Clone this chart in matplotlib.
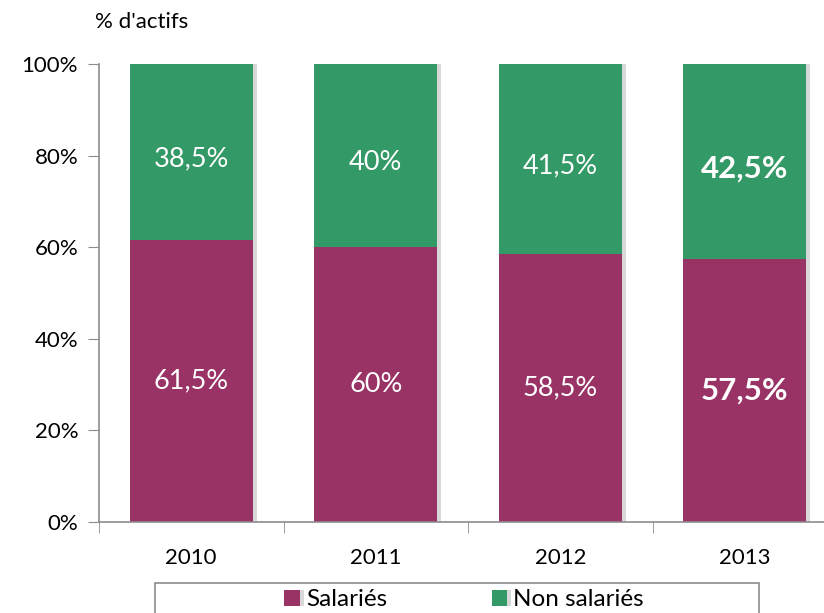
import matplotlib
matplotlib.use("Agg")
import matplotlib.pyplot as plt
import matplotlib.patheffects as pe
from matplotlib.patches import Rectangle
import numpy as np

plt.rcParams["font.family"] = ["Lato", "DejaVu Sans"]

years = ["2010", "2011", "2012", "2013"]
salaries = [61.5, 60, 58.5, 57.5]
non_salaries = [38.5, 40, 41.5, 42.5]
sal_labels = ["61,5%", "60%", "58,5%", "57,5%"]
non_labels = ["38,5%", "40%", "41,5%", "42,5%"]
y_ticks = [0, 20, 40, 60, 80, 100]

purple = "#993366"
green = "#339966"
axis_gray = "#8c8c8c"

fig = plt.figure(figsize=(8.24, 6.13), dpi=100)
# axes runs past the right edge of the figure, as in the reference
ax = fig.add_axes([99 / 824, 1 - 522 / 613, 738 / 824, 458 / 613])

x = np.arange(len(years))
shadow = [pe.SimplePatchShadow(offset=(3, 0), shadow_rgbFace="#808080", alpha=0.3), pe.Normal()]

b1 = ax.bar(x, salaries, width=0.665, color=purple, label="Salariés", path_effects=shadow)
b2 = ax.bar(x, non_salaries, width=0.665, bottom=salaries, color=green, label="Non salariés",
            path_effects=shadow)

for i in range(len(years)):
    bold = i == len(years) - 1
    fw = "bold" if bold else "normal"
    fs = 22.5 if bold else 19.5
    ax.text(x[i], salaries[i] / 2, sal_labels[i], ha="center", va="center",
            color="white", fontsize=fs, fontweight=fw)
    ax.text(x[i], salaries[i] + non_salaries[i] / 2 - 1.5, non_labels[i], ha="center", va="center",
            color="white", fontsize=fs, fontweight=fw)

ax.set_xlim(-0.5, len(years) - 0.5)
ax.set_ylim(0, 100)
ax.set_yticks(y_ticks)
ax.set_yticklabels([str(v) + "%" for v in y_ticks])
ax.set_xticks(x)
ax.set_xticklabels(years)
ax.set_xticks(np.arange(len(years) + 1) - 0.5, minor=True)

ax.tick_params(axis="y", direction="out", length=8, color=axis_gray, labelsize=16, pad=7)
ax.tick_params(axis="x", which="major", length=0, labelsize=16, pad=19)
ax.tick_params(axis="x", which="minor", direction="out", length=8, color=axis_gray)

for s in ["top", "right"]:
    ax.spines[s].set_visible(False)
for s in ["left", "bottom"]:
    ax.spines[s].set_color(axis_gray)
    ax.spines[s].set_linewidth(1.2)

fig.text(95 / 824, 1 - 22 / 613, "% d'actifs", fontsize=16, va="center", ha="left")

# legend frame (cut by the bottom edge)
fig.patches.append(Rectangle((155 / 824, -0.05), 604 / 824, 0.05 + 1 - 583 / 613,
                             transform=fig.transFigure, fill=False, edgecolor=axis_gray,
                             linewidth=1.2))
fig.legend(handles=[b1, b2], loc="center", bbox_to_anchor=(464 / 824, 1 - 600 / 613),
           ncol=2, frameon=False, fontsize=17.5, handlelength=0.65, handleheight=0.65,
           handletextpad=0.25, columnspacing=4.3, borderaxespad=0)

fig.savefig("out.png", dpi=100)
